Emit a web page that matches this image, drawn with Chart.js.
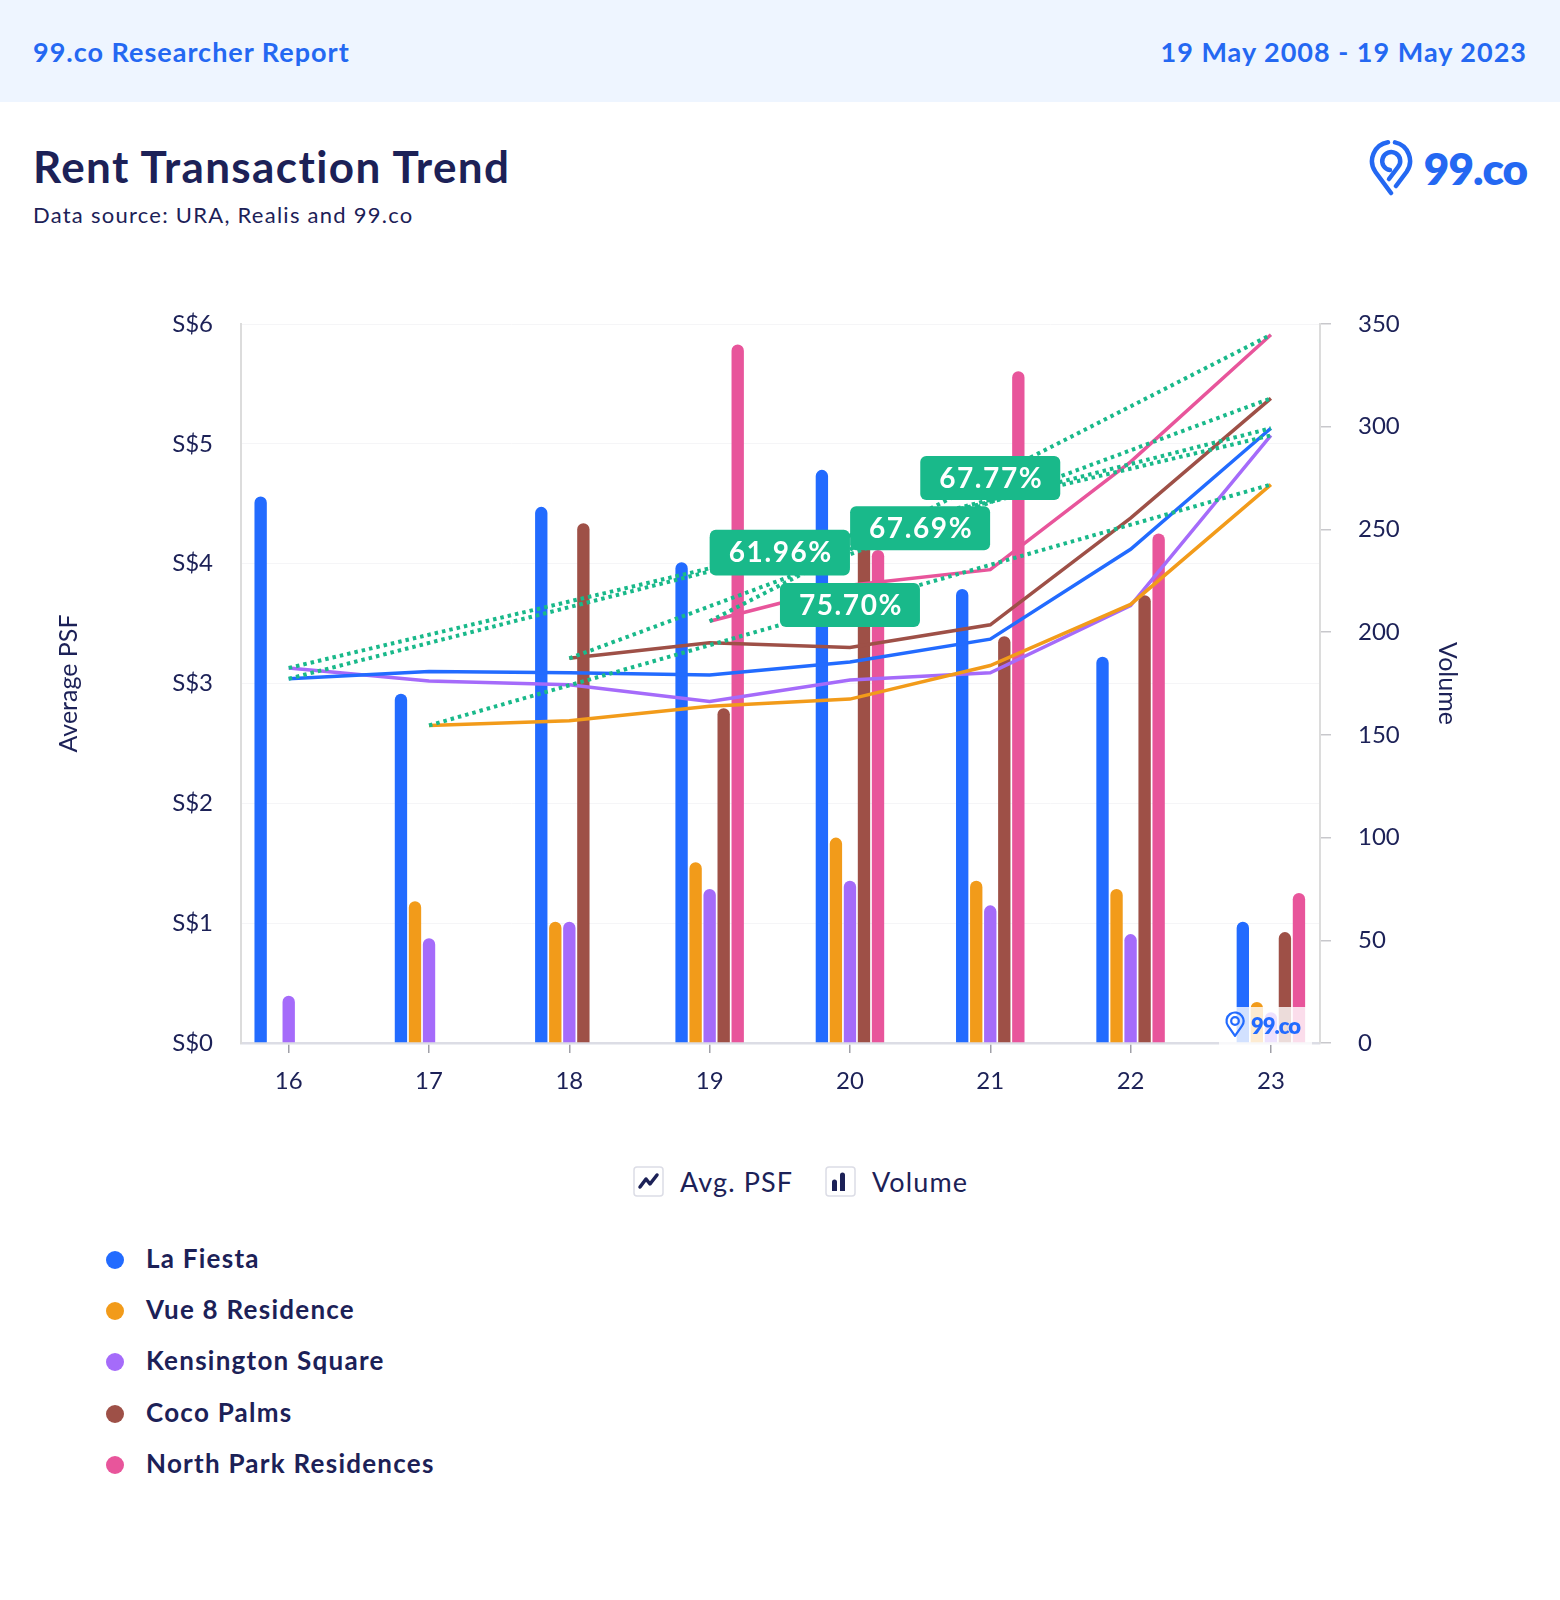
<!DOCTYPE html>
<html>
<head>
<meta charset="utf-8">
<title>Rent Transaction Trend</title>
<script src="https://cdn.jsdelivr.net/npm/chart.js@4.4.0/dist/chart.umd.min.js"></script>
<style>
  body { margin: 0; width: 1560px; height: 1600px; background: #fff; font-family: 'Lato', sans-serif; color: #1C2157; position: relative; overflow: hidden; }
  .band { position: absolute; left: 0; top: 0; width: 1560px; height: 102px; background: #EEF5FF; }
  .band span { position: absolute; top: 34px; font-size: 27px; font-weight: 700; color: #2468F2; line-height: 36px; white-space: nowrap; letter-spacing: 1px; }
  .title { position: absolute; left: 33px; top: 140px; font-size: 44px; font-weight: 700; line-height: 52px; white-space: nowrap; letter-spacing: 1.4px; }
  .source { position: absolute; left: 33px; top: 201px; font-size: 22px; line-height: 28px; white-space: nowrap; letter-spacing: 1.25px; }
  .logo-pin { position: absolute; left: 1368px; top: 140px; }
  .logo-text { position: absolute; right: 33px; top: 144px; font-size: 44px; font-weight: 800; letter-spacing: -1px; line-height: 48px; color: #2468F2; }
  #wrap { position: absolute; left: 0; top: 240px; width: 1560px; height: 880px; }
  .kind { position: absolute; top: 1165px; height: 32px; display: flex; align-items: center; font-size: 27px; white-space: nowrap; letter-spacing: 1.1px; }
  .kind svg { margin-right: 16px; }
  .series { position: absolute; left: 106px; font-size: 26px; font-weight: 700; line-height: 34px; white-space: nowrap; letter-spacing: 1.25px; }
  .series i { display: inline-block; width: 18px; height: 18px; border-radius: 50%; margin-right: 22px; vertical-align: -1px; }
</style>
</head>
<body>
<div class="band">
  <span style="left:33px">99.co Researcher Report</span>
  <span style="right:33px">19 May 2008 - 19 May 2023</span>
</div>
<div class="title">Rent Transaction Trend</div>
<div class="source">Data source: URA, Realis and 99.co</div>
<svg class="logo-pin" width="46" height="56" viewBox="0 0 46 56">
  <path d="M23 53 L7.5 32 A19 19 0 0 1 20 2.3" fill="none" stroke="#2468F2" stroke-width="4.5" stroke-linejoin="round" stroke-linecap="round"/>
  <path d="M27 2.4 A19 19 0 0 1 38.5 32 L28 46" fill="none" stroke="#2468F2" stroke-width="4.5" stroke-linejoin="round" stroke-linecap="round"/>
  <path d="M30 27 A9 9 0 1 0 22 30 M30 27 L21 39" fill="none" stroke="#2468F2" stroke-width="4.5" stroke-linecap="round"/>
</svg>
<div class="logo-text">99.co</div>

<div id="wrap"><canvas id="chart" width="1560" height="880"></canvas></div>

<div class="kind" style="left:633px">
  <svg width="31" height="31" viewBox="0 0 31 31">
    <rect x="1" y="1" width="29" height="29" rx="3" fill="#fff" stroke="#dcdde6" stroke-width="1.5"/>
    <path d="M7 21 L13 13 L17 18 L24 9" fill="none" stroke="#1C2157" stroke-width="3.5" stroke-linecap="round" stroke-linejoin="round"/>
  </svg>Avg. PSF
</div>
<div class="kind" style="left:825px">
  <svg width="31" height="31" viewBox="0 0 31 31">
    <rect x="1" y="1" width="29" height="29" rx="3" fill="#fff" stroke="#dcdde6" stroke-width="1.5"/>
    <path d="M7 25 V16 a2.5 2.5 0 0 1 5 0 V25 Z M15 25 V9 a2.5 2.5 0 0 1 5 0 V25 Z" fill="#1C2157"/>
  </svg>Volume
</div>

<div id="legend"></div>

<script>
// category ticks (years)
const years = [16, 17, 18, 19, 20, 21, 22, 23];

const seriesNames = ['La Fiesta', 'Vue 8 Residence', 'Kensington Square', 'Coco Palms', 'North Park Residences'];
const seriesColors = ['#226BFF', '#F29B1A', '#A56BFA', '#9E5047', '#E8559B'];

// average psf (left axis, S$)
const psfLaFiesta    = [3.04, 3.10, 3.09, 3.07, 3.18, 3.37, 4.12, 5.13];
const psfVue8        = [null, 2.65, 2.69, 2.81, 2.87, 3.15, 3.66, 4.66];
const psfKensington  = [3.13, 3.02, 2.99, 2.85, 3.03, 3.09, 3.65, 5.07];
const psfCocoPalms   = [null, null, 3.21, 3.34, 3.30, 3.49, 4.38, 5.38];
const psfNorthPark   = [null, null, null, 3.52, 3.82, 3.95, 4.85, 5.91];

// transaction volume (right axis)
const volLaFiesta    = [266, 170, 261, 234, 279, 221, 188, 59];
const volVue8        = [null, 69, 59, 88, 100, 79, 75, 20];
const volKensington  = [23, 51, 59, 75, 79, 67, 53, 15];
const volCocoPalms   = [null, null, 253, 163, 250, 198, 218, 54];
const volNorthPark   = [null, null, null, 340, 240, 327, 248, 73];

// growth labels shown on the trend lines
const growthLabels = ['68.75%', '75.70%', '61.96%', '67.69%', '67.77%'];

const psfTicks = [0, 1, 2, 3, 4, 5, 6];
const volTicks = [0, 50, 100, 150, 200, 250, 300, 350];

const psfSets = [psfLaFiesta, psfVue8, psfKensington, psfCocoPalms, psfNorthPark];
const volSets = [volLaFiesta, volVue8, volKensington, volCocoPalms, volNorthPark];

const NAVY = '#1C2157';
const GREEN = '#19B98A';
const FONT = "'Lato', sans-serif";

// series legend
const legend = document.getElementById('legend');
seriesNames.forEach((name, i) => {
  const d = document.createElement('div');
  d.className = 'series';
  d.style.top = (1241 + i * 51.2) + 'px';
  d.innerHTML = '<i style="background:' + seriesColors[i] + '"></i>' + name;
  legend.appendChild(d);
});

const toPoints = arr => years.map((x, i) => ({ x: x, y: arr[i] }));

const datasets = [];
volSets.forEach((arr, i) => {
  datasets.push({
    type: 'bar',
    label: seriesNames[i] + ' volume',
    data: toPoints(arr),
    yAxisID: 'y1',
    backgroundColor: seriesColors[i],
    borderRadius: 7,
    borderSkipped: 'start',
    categoryPercentage: 0.5,
    barPercentage: 0.88,
    order: 3
  });
});
psfSets.forEach((arr, i) => {
  datasets.push({
    type: 'line',
    label: seriesNames[i] + ' psf',
    data: toPoints(arr),
    yAxisID: 'y',
    borderColor: seriesColors[i],
    borderWidth: 3.5,
    pointRadius: 0,
    tension: 0,
    order: 2
  });
});
// dotted trend line from first to last point of each series
psfSets.forEach((arr, i) => {
  const first = arr.findIndex(v => v !== null);
  const last = arr.length - 1;
  datasets.push({
    type: 'line',
    label: seriesNames[i] + ' trend',
    data: [{ x: years[first], y: arr[first] }, { x: years[last], y: arr[last] }],
    yAxisID: 'y',
    borderColor: GREEN,
    borderWidth: 4,
    borderDash: [3.5, 4],
    pointRadius: 0,
    order: 1
  });
});

function roundRect(ctx, x, y, w, h, r) {
  ctx.beginPath();
  ctx.moveTo(x + r, y);
  ctx.arcTo(x + w, y, x + w, y + h, r);
  ctx.arcTo(x + w, y + h, x, y + h, r);
  ctx.arcTo(x, y + h, x, y, r);
  ctx.arcTo(x, y, x + w, y, r);
  ctx.closePath();
}

function drawPin(ctx, cx, cy, s, color) {
  // teardrop with inner ring, s = radius of the head
  const tipY = cy + s * 1.75;
  const a = Math.acos(s / (tipY - cy));
  ctx.save();
  ctx.strokeStyle = color;
  ctx.lineWidth = s * 0.26;
  ctx.lineJoin = 'round';
  ctx.beginPath();
  ctx.moveTo(cx, tipY);
  ctx.arc(cx, cy, s, Math.PI / 2 + a, Math.PI / 2 - a + 2 * Math.PI);
  ctx.closePath();
  ctx.stroke();
  ctx.beginPath();
  ctx.arc(cx, cy, s * 0.45, 0, Math.PI * 2);
  ctx.stroke();
  ctx.restore();
}

const overlays = {
  id: 'overlays',
  afterDatasetsDraw(chart) {
    const { ctx, chartArea, scales } = chart;
    const x = scales.x, y = scales.y;

    // watermark in the corner of the plot
    ctx.save();
    ctx.fillStyle = 'rgba(255,255,255,0.8)';
    ctx.fillRect(chartArea.right - 101, chartArea.bottom - 36, 93, 38);
    drawPin(ctx, chartArea.right - 85, chartArea.bottom - 22, 8.5, '#226BFF');
    ctx.fillStyle = '#226BFF';
    ctx.font = "800 22px " + FONT;
    ctx.letterSpacing = '-1px';
    ctx.textBaseline = 'middle';
    ctx.fillText('99.co', chartArea.right - 69, chartArea.bottom - 16);
    ctx.restore();

    // growth labels at the middle of each trend line
    psfSets.forEach((arr, i) => {
      const first = arr.findIndex(v => v !== null);
      const last = arr.length - 1;
      const px = (x.getPixelForValue(years[first]) + x.getPixelForValue(years[last])) / 2;
      const py = (y.getPixelForValue(arr[first]) + y.getPixelForValue(arr[last])) / 2;
      ctx.save();
      ctx.fillStyle = GREEN;
      roundRect(ctx, px - 70, py - 22, 140, 44, 6);
      ctx.fill();
      ctx.fillStyle = '#fff';
      ctx.font = "700 28px " + FONT;
      ctx.letterSpacing = '1.6px';
      ctx.textAlign = 'center';
      ctx.textBaseline = 'middle';
      ctx.fillText(growthLabels[i], px + 1, py + 1);
      ctx.restore();
    });
  }
};

new Chart(document.getElementById('chart'), {
  data: { datasets: datasets },
  options: {
    responsive: false,
    animation: false,
    devicePixelRatio: 1,
    layout: { padding: { top: 84, left: 0, right: 0, bottom: 0 } },
    plugins: { legend: { display: false }, tooltip: { enabled: false } },
    scales: {
      x: {
        type: 'linear',
        min: 15.66,
        max: 23.35,
        offset: false,
        afterBuildTicks: s => { s.ticks = years.map(v => ({ value: v })); },
        afterFit: s => { s.height = 77; },
        grid: { offset: false, drawOnChartArea: false, drawTicks: true, tickLength: 10, color: '#a0a0a8', lineWidth: 1.5 },
        border: { color: '#dcdde5', width: 2.5 },
        ticks: { padding: 14, color: NAVY, font: { size: 24, family: FONT }, callback: v => String(v) }
      },
      y: {
        position: 'left',
        min: 0,
        max: 6,
        afterBuildTicks: s => { s.ticks = psfTicks.map(v => ({ value: v })); },
        afterFit: s => { s.width = 241; },
        grid: { color: '#f5f5f7', drawTicks: false },
        border: { color: '#dcdcdc', width: 2 },
        ticks: { padding: 28, color: NAVY, font: { size: 24, family: FONT }, callback: v => 'S$' + v },
        title: { display: true, text: 'Average PSF', color: NAVY, font: { size: 25, family: FONT }, padding: { top: 54, bottom: 0 } }
      },
      y1: {
        position: 'right',
        min: 0,
        max: 350,
        afterBuildTicks: s => { s.ticks = volTicks.map(v => ({ value: v })); },
        afterFit: s => { s.width = 240; },
        grid: { drawOnChartArea: false, drawTicks: true, tickLength: 11, color: '#c8c8cc', lineWidth: 1.5 },
        border: { color: '#dcdcdc', width: 2 },
        ticks: { padding: 27, color: NAVY, font: { size: 24, family: FONT } },
        title: { display: true, text: 'Volume', color: NAVY, font: { size: 25, family: FONT }, padding: { top: 98, bottom: 0 } }
      }
    }
  },
  plugins: [overlays]
});
</script>
</body>
</html>
